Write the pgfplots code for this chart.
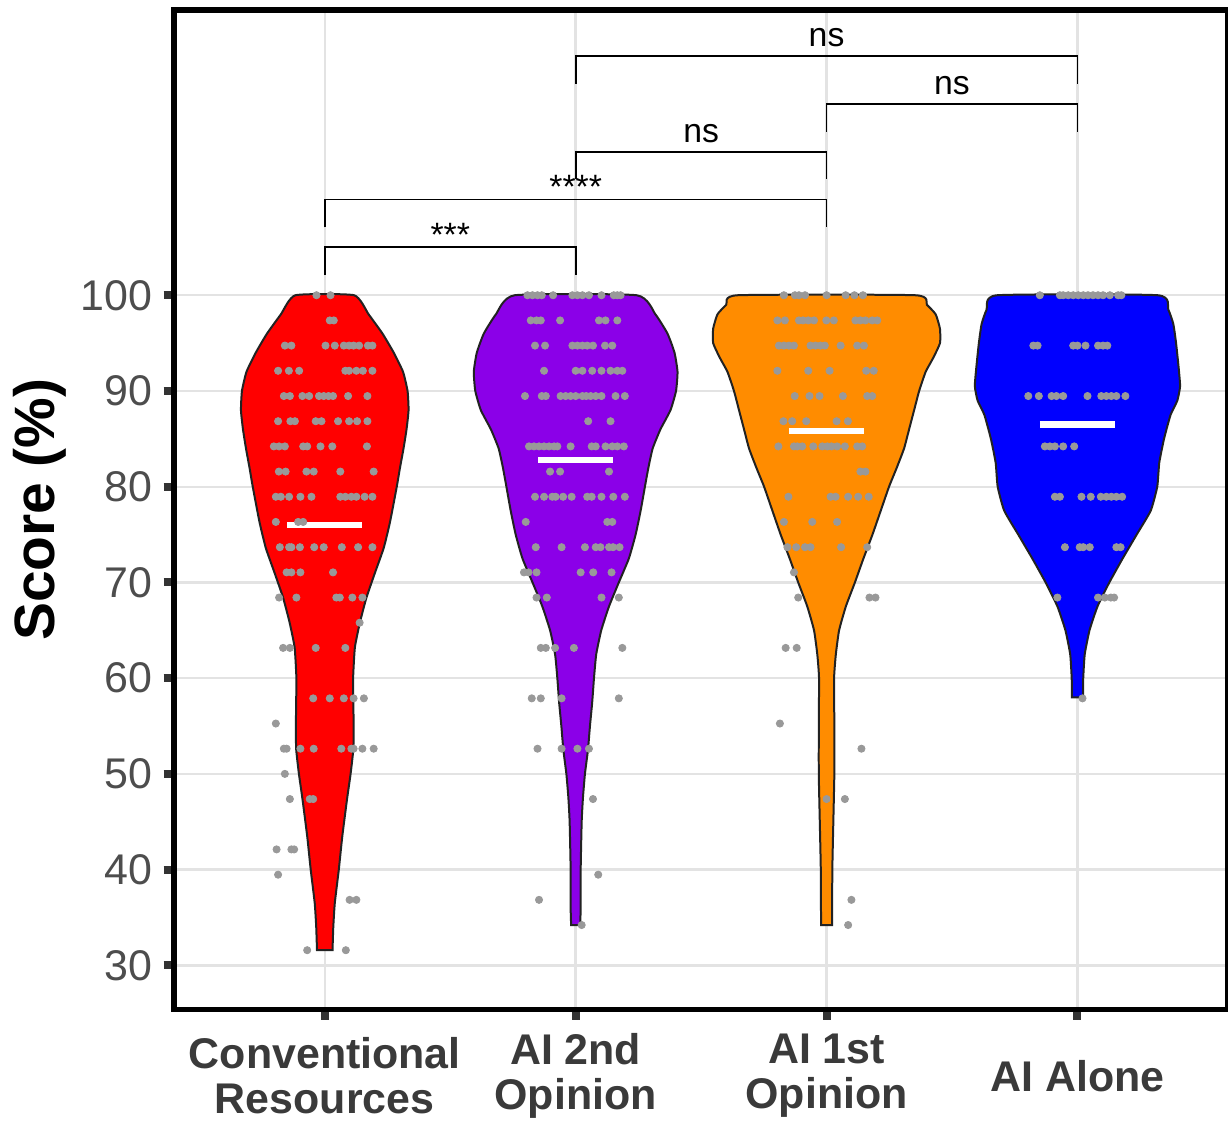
\documentclass[border=0pt]{standalone}
\usepackage{pgfplots}
\pgfplotsset{compat=1.18}
\usepackage{fontspec}
\setmainfont{Liberation Sans}
\definecolor{vred}{HTML}{FF0000}
\definecolor{vpurple}{HTML}{8B00E8}
\definecolor{vorange}{HTML}{FF8C00}
\definecolor{vblue}{HTML}{0000FF}
\definecolor{dotgray}{HTML}{999999}
\definecolor{gridgray}{HTML}{E3E3E3}
\definecolor{tickgray}{HTML}{333333}
\definecolor{labgray}{HTML}{4D4D4D}
\definecolor{xlabgray}{HTML}{3A3A3A}
\definecolor{outline}{HTML}{222222}
\begin{document}
\begin{tikzpicture}
\begin{axis}[name=ax, scale only axis, width=527.75pt, height=500.5pt,
  xmin=0.4, xmax=4.6, ymin=25.4, ymax=129.8,
  xtick={1,2,3,4},
  xticklabels={{Conventional\\Resources},{AI 2nd\\Opinion},{AI 1st\\Opinion},{AI Alone}},
  ytick={30,40,50,60,70,80,90,100},
  grid=major, major grid style={gridgray, line width=1.2pt},
  axis line style={black, line width=2.8pt},
  tick align=outside, major tick length=5.3pt,
  tick style={tickgray, line width=4pt},
  xtick pos=bottom, ytick pos=left,
  /pgf/number format/assume math mode=true,
  yticklabel style={font=\fontsize{21.5}{24}\selectfont, color=labgray, xshift=-2.3pt},
  xticklabel style={font=\bfseries\fontsize{21.5}{22.5}\selectfont, color=xlabgray, align=center, anchor=center, yshift=-28pt},
  ylabel={Score (\%)},
  ylabel style={font=\bfseries\fontsize{28.5}{32}\selectfont, at={(axis description cs:-0.1274,0.5)}, anchor=center},
]
% violins
\addplot[fill=vred, draw=outline, line width=1pt, smooth, tension=0.3] coordinates {
(1.031,31.6) (1.034,34) (1.040,36.5) (1.056,40) (1.070,43.5) (1.089,47.4) (1.103,50) (1.114,52.6) (1.115,55) (1.114,57.5) (1.113,60) (1.120,63.2) (1.140,65.8) (1.166,68.4) (1.200,71) (1.235,73.6) (1.260,76.3) (1.287,80) (1.300,82) (1.314,84) (1.326,86) (1.334,88) (1.330,90) (1.312,92) (1.275,94) (1.230,96) (1.175,98) (1.117,100)
(0.883,100) (0.825,98) (0.770,96) (0.725,94) (0.688,92) (0.670,90) (0.666,88) (0.674,86) (0.686,84) (0.700,82) (0.713,80) (0.740,76.3) (0.765,73.6) (0.800,71) (0.834,68.4) (0.860,65.8) (0.880,63.2) (0.887,60) (0.886,57.5) (0.885,55) (0.886,52.6) (0.897,50) (0.911,47.4) (0.930,43.5) (0.944,40) (0.960,36.5) (0.966,34) (0.969,31.6)
} -- cycle;
\addplot[fill=vpurple, draw=outline, line width=1pt, smooth, tension=0.3] coordinates {
(2.018,34.2) (2.020,36) (2.020,40) (2.024,45) (2.029,47.5) (2.037,50) (2.049,52.5) (2.057,55) (2.066,57.5) (2.073,60) (2.082,62.5) (2.102,65) (2.133,67.5) (2.172,70) (2.212,72.5) (2.239,75) (2.259,77.5) (2.276,80) (2.290,82) (2.307,84) (2.338,86) (2.378,88) (2.400,90) (2.406,92) (2.394,94) (2.366,96) (2.318,98) (2.243,100)
(1.757,100) (1.682,98) (1.634,96) (1.606,94) (1.594,92) (1.600,90) (1.622,88) (1.662,86) (1.693,84) (1.710,82) (1.724,80) (1.741,77.5) (1.761,75) (1.788,72.5) (1.828,70) (1.867,67.5) (1.898,65) (1.918,62.5) (1.927,60) (1.934,57.5) (1.943,55) (1.951,52.5) (1.963,50) (1.971,47.5) (1.976,45) (1.980,40) (1.980,36) (1.982,34.2)
} -- cycle;
\addplot[fill=vorange, draw=outline, line width=1pt, smooth, tension=0.3] coordinates {
(3.022,34.2) (3.023,40) (3.027,45) (3.031,50) (3.031,55) (3.030,60) (3.037,62.5) (3.050,65) (3.077,67.5) (3.113,70) (3.147,72.5) (3.183,75) (3.216,77.5) (3.249,80) (3.280,82) (3.309,84) (3.329,86) (3.349,88) (3.369,90) (3.395,92) (3.426,93.5) (3.452,95) (3.452,96.5) (3.435,98) (3.400,99) (3.354,100)
(2.646,100) (2.600,99) (2.565,98) (2.548,96.5) (2.548,95) (2.574,93.5) (2.605,92) (2.631,90) (2.651,88) (2.671,86) (2.691,84) (2.720,82) (2.751,80) (2.784,77.5) (2.817,75) (2.853,72.5) (2.887,70) (2.923,67.5) (2.950,65) (2.963,62.5) (2.970,60) (2.969,55) (2.969,50) (2.973,45) (2.977,40) (2.978,34.2)
} -- cycle;
\addplot[fill=vblue, draw=outline, line width=1pt, smooth, tension=0.3] coordinates {
(4.022,58) (4.023,60) (4.029,62.5) (4.048,65) (4.080,67.5) (4.127,70) (4.180,72.5) (4.236,75) (4.292,77.5) (4.318,80) (4.326,82.5) (4.345,85) (4.371,87.5) (4.398,89) (4.409,90.5) (4.403,92.5) (4.393,95) (4.382,97) (4.362,98.5) (4.320,100)
(3.680,100) (3.638,98.5) (3.618,97) (3.607,95) (3.597,92.5) (3.591,90.5) (3.602,89) (3.629,87.5) (3.655,85) (3.674,82.5) (3.682,80) (3.708,77.5) (3.764,75) (3.820,72.5) (3.873,70) (3.920,67.5) (3.952,65) (3.971,62.5) (3.977,60) (3.978,58)
} -- cycle;
% jittered points
\addplot[only marks, mark=*, mark size=1.8pt, mark options={fill=dotgray, draw=dotgray}] coordinates {
(0.967,100) (1.023,100)
(1.020,97.37) (1.036,97.37)
(0.841,94.74) (0.867,94.74) (1.003,94.74) (1.040,94.74) (1.076,94.74) (1.097,94.74) (1.115,94.74) (1.137,94.74) (1.172,94.74) (1.190,94.74)
(0.814,92.11) (0.857,92.11) (0.898,92.11) (1.082,92.11) (1.097,92.11) (1.126,92.11) (1.152,92.11) (1.190,92.11)
(0.837,89.47) (0.861,89.47) (0.911,89.47) (0.938,89.47) (0.977,89.47) (0.996,89.47) (1.015,89.47) (1.033,89.47) (1.093,89.47) (1.170,89.47)
(0.814,86.84) (0.863,86.84) (0.881,86.84) (0.964,86.84) (0.987,86.84) (1.053,86.84) (1.097,86.84) (1.129,86.84) (1.170,86.84)
(0.797,84.21) (0.818,84.21) (0.841,84.21) (0.914,84.21) (0.930,84.21) (0.983,84.21) (1.030,84.21) (1.168,84.21)
(0.817,81.58) (0.844,81.58) (0.927,81.58) (0.956,81.58) (1.062,81.58) (1.195,81.58)
(0.805,78.95) (0.825,78.95) (0.858,78.95) (0.903,78.95) (0.947,78.95) (1.062,78.95) (1.082,78.95) (1.106,78.95) (1.126,78.95) (1.159,78.95) (1.190,78.95)
(0.805,76.32) (0.894,76.32) (0.914,76.32)
(0.821,73.68) (0.858,73.68) (0.867,73.68) (0.901,73.68) (0.958,73.68) (0.996,73.68) (1.068,73.68) (1.133,73.68) (1.190,73.68)
(0.848,71.05) (0.867,71.05) (0.903,71.05) (1.033,71.05)
(0.818,68.42) (0.887,68.42) (1.046,68.42) (1.060,68.42) (1.110,68.42) (1.150,68.42)
(1.139,65.79)
(0.834,63.16) (0.861,63.16) (0.964,63.16) (1.082,63.16)
(0.954,57.89) (1.020,57.89) (1.076,57.89) (1.115,57.89) (1.156,57.89)
(0.805,55.26)
(0.837,52.63) (0.848,52.63) (0.903,52.63) (0.956,52.63) (1.066,52.63) (1.106,52.63) (1.115,52.63) (1.150,52.63) (1.195,52.63)
(0.841,50)
(0.861,47.37) (0.940,47.37) (0.954,47.37)
(0.808,42.11) (0.867,42.11) (0.878,42.11)
(0.814,39.47)
(1.099,36.84) (1.126,36.84)
(0.930,31.58) (1.084,31.58)
(1.808,100) (1.828,100) (1.848,100) (1.865,100) (1.910,100) (1.987,100) (2.007,100) (2.027,100) (2.053,100) (2.103,100) (2.152,100) (2.166,100) (2.179,100)
(1.821,97.37) (1.844,97.37) (1.861,97.37) (1.938,97.37) (2.093,97.37) (2.119,97.37) (2.166,97.37)
(1.838,94.74) (1.878,94.74) (1.987,94.74) (2.007,94.74) (2.027,94.74) (2.046,94.74) (2.069,94.74) (2.117,94.74) (2.146,94.74)
(1.874,92.11) (2.000,92.11) (2.027,92.11) (2.066,92.11) (2.103,92.11) (2.139,92.11) (2.166,92.11) (2.186,92.11)
(1.798,89.47) (1.865,89.47) (1.881,89.47) (1.940,89.47) (1.960,89.47) (1.980,89.47) (2.000,89.47) (2.027,89.47) (2.042,89.47) (2.060,89.47) (2.080,89.47) (2.103,89.47) (2.159,89.47) (2.196,89.47)
(2.050,86.84) (2.139,86.84)
(1.814,84.21) (1.834,84.21) (1.854,84.21) (1.874,84.21) (1.894,84.21) (1.914,84.21) (1.927,84.21) (1.980,84.21) (2.064,84.21) (2.080,84.21) (2.119,84.21) (2.146,84.21) (2.166,84.21) (2.192,84.21)
(1.898,81.58) (1.938,81.58) (2.133,81.58)
(1.838,78.95) (1.874,78.95) (1.907,78.95) (1.920,78.95) (1.950,78.95) (1.984,78.95) (2.046,78.95) (2.064,78.95) (2.103,78.95) (2.150,78.95) (2.196,78.95)
(1.801,76.32) (2.126,76.32) (2.146,76.32)
(1.841,73.68) (1.944,73.68) (2.037,73.68) (2.080,73.68) (2.099,73.68) (2.133,73.68) (2.149,73.68) (2.175,73.68)
(1.794,71.05) (1.812,71.05) (1.844,71.05) (2.020,71.05) (2.070,71.05) (2.143,71.05)
(1.844,68.42) (1.885,68.42) (2.103,68.42) (2.172,68.42)
(1.861,63.16) (1.881,63.16) (1.918,63.16) (1.993,63.16) (2.186,63.16)
(1.825,57.89) (1.861,57.89) (1.944,57.89) (2.172,57.89)
(1.848,52.63) (1.944,52.63) (2.007,52.63) (2.053,52.63)
(2.069,47.37) (2.090,39.47) (1.854,36.84) (2.024,34.21)
(2.830,100) (2.874,100) (2.890,100) (2.914,100) (3.000,100) (3.076,100) (3.111,100) (3.145,100)
(2.804,97.37) (2.834,97.37) (2.890,97.37) (2.906,97.37) (2.927,97.37) (2.950,97.37) (2.999,97.37) (3.029,97.37) (3.115,97.37) (3.135,97.37) (3.155,97.37) (3.182,97.37) (3.202,97.37)
(2.810,94.74) (2.830,94.74) (2.850,94.74) (2.870,94.74) (2.936,94.74) (2.956,94.74) (2.976,94.74) (2.993,94.74) (3.056,94.74) (3.122,94.74) (3.149,94.74)
(2.804,92.11) (2.927,92.11) (3.012,92.11) (3.158,92.11) (3.188,92.11)
(2.873,89.47) (2.932,89.47) (2.972,89.47) (3.065,89.47) (3.162,89.47) (3.182,89.47)
(2.828,86.84) (2.863,86.84) (2.919,86.84) (3.040,86.84) (3.085,86.84)
(2.808,84.21) (2.870,84.21) (2.883,84.21) (2.903,84.21) (2.947,84.21) (2.983,84.21) (3.003,84.21) (3.020,84.21) (3.042,84.21) (3.073,84.21) (3.122,84.21) (3.142,84.21)
(3.135,81.58) (3.155,81.58)
(2.848,78.95) (3.016,78.95) (3.036,78.95) (3.086,78.95) (3.126,78.95) (3.168,78.95)
(2.830,76.32) (2.943,76.32) (3.042,76.32)
(2.844,73.68) (2.879,73.68) (2.914,73.68) (2.936,73.68) (3.058,73.68) (3.162,73.68)
(2.870,71.05) (2.887,68.42) (3.171,68.42) (3.195,68.42)
(2.837,63.16) (2.881,63.16) (2.814,55.26) (3.139,52.63) (3.000,47.37) (3.073,47.37) (3.099,36.84) (3.086,34.21)
(3.850,100) (3.930,100) (3.943,100) (3.963,100) (3.983,100) (4.003,100) (4.023,100) (4.042,100) (4.062,100) (4.082,100) (4.102,100) (4.129,100) (4.162,100) (4.175,100)
(3.824,94.74) (3.841,94.74) (3.983,94.74) (4.000,94.74) (4.032,94.74) (4.082,94.74) (4.102,94.74) (4.119,94.74)
(3.804,89.47) (3.846,89.47) (3.897,89.47) (3.916,89.47) (3.943,89.47) (4.040,89.47) (4.095,89.47) (4.115,89.47) (4.135,89.47) (4.155,89.47) (4.191,89.47)
(3.870,84.21) (3.890,84.21) (3.910,84.21) (3.943,84.21) (3.987,84.21)
(3.910,78.95) (3.930,78.95) (4.016,78.95) (4.053,78.95) (4.093,78.95) (4.115,78.95) (4.135,78.95) (4.155,78.95) (4.178,78.95)
(3.950,73.68) (4.009,73.68) (4.023,73.68) (4.049,73.68) (4.155,73.68) (4.172,73.68)
(3.920,68.42) (4.082,68.42) (4.109,68.42) (4.133,68.42) (4.146,68.42)
(4.020,57.89)
};
% medians
\addplot[white, line width=3.2pt] coordinates {(0.85,76.0) (1.15,76.0)};
\addplot[white, line width=3.2pt] coordinates {(1.85,82.8) (2.15,82.8)};
\addplot[white, line width=3.2pt] coordinates {(2.85,85.8) (3.15,85.8)};
\addplot[white, line width=3.2pt] coordinates {(3.85,86.5) (4.15,86.5)};
% significance brackets
\addplot[black, line width=0.9pt] coordinates {(1,102.1) (1,105) (2,105) (2,102.1)};
\addplot[black, line width=0.9pt] coordinates {(1,107.1) (1,110) (3,110) (3,107.1)};
\addplot[black, line width=0.9pt] coordinates {(2,112.1) (2,115) (3,115) (3,112.1)};
\addplot[black, line width=0.9pt] coordinates {(3,117.1) (3,120) (4,120) (4,117.1)};
\addplot[black, line width=0.9pt] coordinates {(2,122.1) (2,125) (4,125) (4,122.1)};
\node[anchor=base, font=\fontsize{16.9}{20}\selectfont, yshift=0.5pt] at (axis cs:1.5,105) {***};
\node[anchor=base, font=\fontsize{16.9}{20}\selectfont, yshift=0.5pt] at (axis cs:2,110) {****};
\node[anchor=base, font=\fontsize{16.9}{20}\selectfont, yshift=4.6pt] at (axis cs:2.5,115) {ns};
\node[anchor=base, font=\fontsize{16.9}{20}\selectfont, yshift=4.6pt] at (axis cs:3.5,120) {ns};
\node[anchor=base, font=\fontsize{16.9}{20}\selectfont, yshift=4.6pt] at (axis cs:3,125) {ns};
\end{axis}
\pgfresetboundingbox
\path[use as bounding box] ([xshift=-87.25pt,yshift=-57.5pt]ax.south west) rectangle ([yshift=5pt]ax.north east);
\end{tikzpicture}
\end{document}
